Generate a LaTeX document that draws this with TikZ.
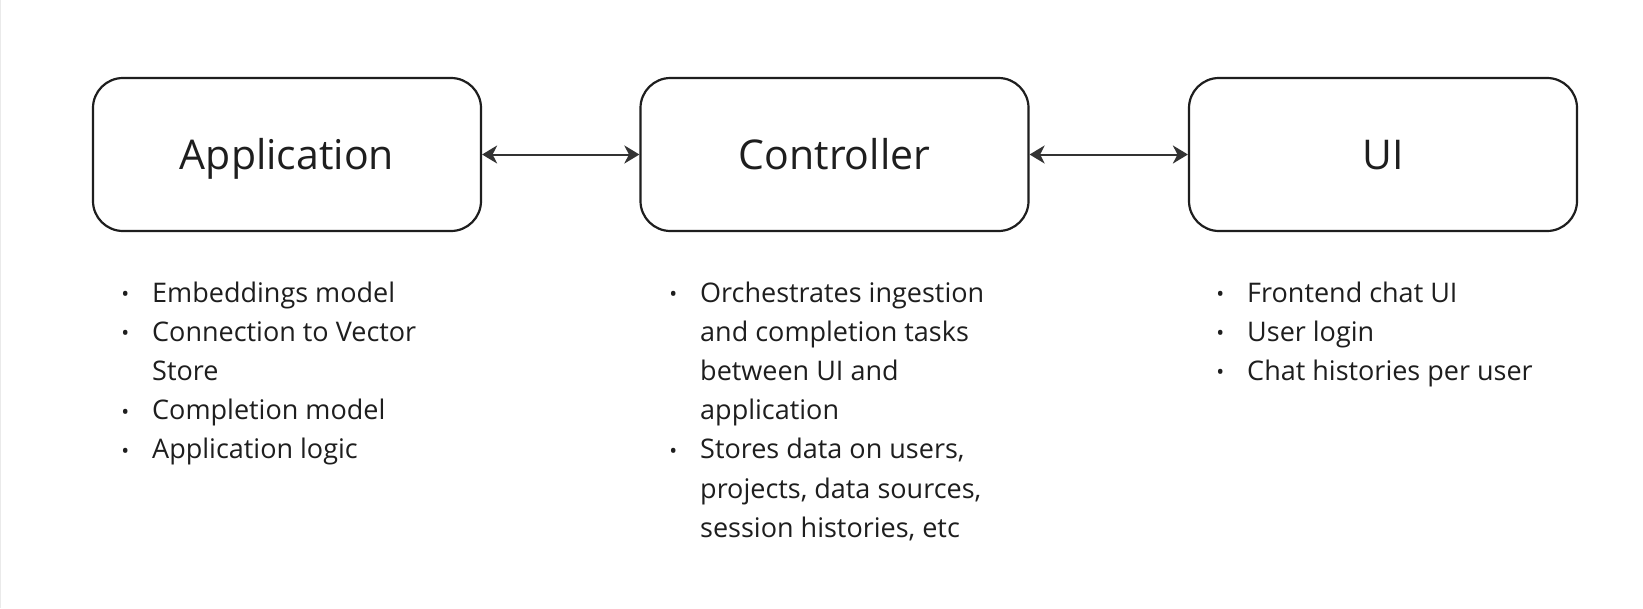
\documentclass[tikz,border=0pt]{standalone}
\usepackage{fontspec}
\setmainfont{Open Sans}
\usetikzlibrary{arrows.meta}
\definecolor{ink}{HTML}{1E1E1E}
\definecolor{arr}{HTML}{333333}
\definecolor{edge}{HTML}{EAEAEA}
\newcommand\bul{\makebox[0pt][c]{\raisebox{0.5pt}{\fontsize{21}{21}\selectfont •}}\hspace{27pt}}
\newcommand\lines[1]{\begin{tabular}[t]{@{}l@{}}#1\end{tabular}}
\begin{document}
\begin{tikzpicture}[x=1pt,y=-1pt,
  block/.style={draw=ink, line width=2.2pt, rounded corners=30pt,
    minimum width=388pt, minimum height=153pt, inner sep=0pt,
    font=\fontsize{41}{41}\selectfont, text=ink, text height=29.3pt, text depth=0pt},
  link/.style={draw=arr, line width=2pt,
    {Stealth[length=15pt,width=18pt,inset=4.5pt]}-{Stealth[length=15pt,width=18pt,inset=4.5pt]}},
  item/.style={anchor=base west, inner sep=0pt, font=\fontsize{27}{39.2}\selectfont, text=ink}]
\useasboundingbox (0,0) rectangle (1643,608);
\fill[white] (0,0) rectangle (1643,608);
\draw[edge, line width=1pt] (0.5,0) -- (0.5,608);

\node[block] (app) at (287,154.5) {Application};
\node[block] (ctrl) at (834.5,154.5) {Controller};
\node[block] (ui) at (1383,154.5) {UI};

\draw[link] (app) -- (ctrl);
\draw[link] (ctrl) -- (ui);

\node[item] (a1) at (125,302) {\bul Embeddings model};
\node[item] (a2) at (125,341.2) {\bul\lines{Connection to Vector\\Store}};
\node[item] (a3) at (125,419.6) {\bul Completion model};
\node[item] (a4) at (125,458.8) {\bul Application logic};

\node[item] (c1) at (673,302) {\bul\lines{Orchestrates ingestion\\and completion tasks\\between UI and\\application}};
\node[item] (c2) at (673,458.8) {\bul\lines{Stores data on users,\\projects, data sources,\\session histories, etc}};

\node[item] (u1) at (1220,302) {\bul Frontend chat UI};
\node[item] (u2) at (1220,341.2) {\bul User login};
\node[item] (u3) at (1220,380.4) {\bul Chat histories per user};
\end{tikzpicture}
\end{document}
